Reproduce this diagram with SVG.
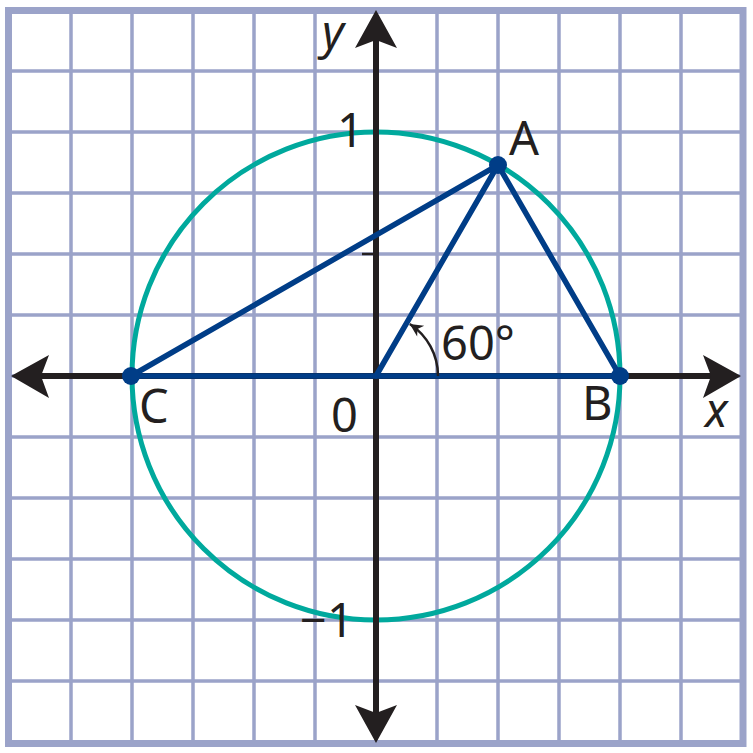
<svg xmlns="http://www.w3.org/2000/svg" width="753" height="753" viewBox="0 0 753 753">
<style>
.grid{stroke:#9BA3C9;stroke-width:3.5;fill:none}
.axis{stroke:#231F20;stroke-width:6;fill:none}
.tri{stroke:#003D87;stroke-width:5.5;fill:none;stroke-linecap:round}
.lbl{font-family:"Noto Sans","Open Sans",sans-serif;font-size:47px;fill:#231F20}
.it{font-style:italic}
</style>
<defs>
<marker id="ah" viewBox="0 0 10 10" refX="10" refY="5" markerWidth="15" markerHeight="13" markerUnits="userSpaceOnUse" orient="auto">
<path d="M0,0 L10,5 L0,10 L3,5 Z" fill="#231F20"/>
</marker>
</defs>
<rect width="753" height="753" fill="#ffffff"/>
<g id="grid">
<path class="grid" d="M71,10V743M132,10V743M193,10V743M254,10V743M315,10V743M376,10V743M437,10V743M498,10V743M559,10V743M620,10V743M681,10V743"/>
<path class="grid" d="M9,71H743M9,132H743M9,193H743M9,254H743M9,315H743M9,376H743M9,437H743M9,498H743M9,559H743M9,620H743M9,681H743"/>
<rect x="8.5" y="10.5" width="734.5" height="733" fill="none" stroke="#9BA3C9" stroke-width="7"/>
</g>
<g id="circle">
<circle cx="376" cy="376" r="244" fill="none" stroke="#00A99D" stroke-width="5"/>
</g>
<g id="axes">
<path class="axis" d="M25,376H727M376,25V727"/>
<path d="M376,10 L397,48 L376,40 L355,48 Z" fill="#231F20"/>
<path d="M376,743 L397,705 L376,713 L355,705 Z" fill="#231F20"/>
<path d="M11,376 L49,355 L41,376 L49,398 Z" fill="#231F20"/>
<path d="M741,376 L703,355 L711,376 L703,398 Z" fill="#231F20"/>
<path d="M362,254H376" stroke="#231F20" stroke-width="2.5"/>
</g>
<g id="connectors">
<path class="tri" d="M131,376H620L498,165L131,376M376,376L498,165"/>
<path d="M438,376 A62,62 0 0 0 409.8,324" fill="none" stroke="#231F20" stroke-width="2.5" marker-end="url(#ah)"/>
</g>
<g id="A"><circle cx="498" cy="165" r="9" fill="#003D87"/><text class="lbl" x="509" y="155">A</text></g>
<g id="B"><circle cx="620" cy="376" r="9" fill="#003D87"/><text class="lbl" x="582" y="420">B</text></g>
<g id="C"><circle cx="131" cy="376" r="9" fill="#003D87"/><text class="lbl" x="139" y="423">C</text></g>
<g id="labels">
<text class="lbl it" x="322" y="49">y</text>
<text class="lbl it" x="705" y="427">x</text>
<text class="lbl" x="337" y="147">1</text>
<text class="lbl" x="331" y="432">0</text>
<text class="lbl" x="441" y="360">60°</text>
<text class="lbl" x="300" y="637">−1</text>
</g>
</svg>
